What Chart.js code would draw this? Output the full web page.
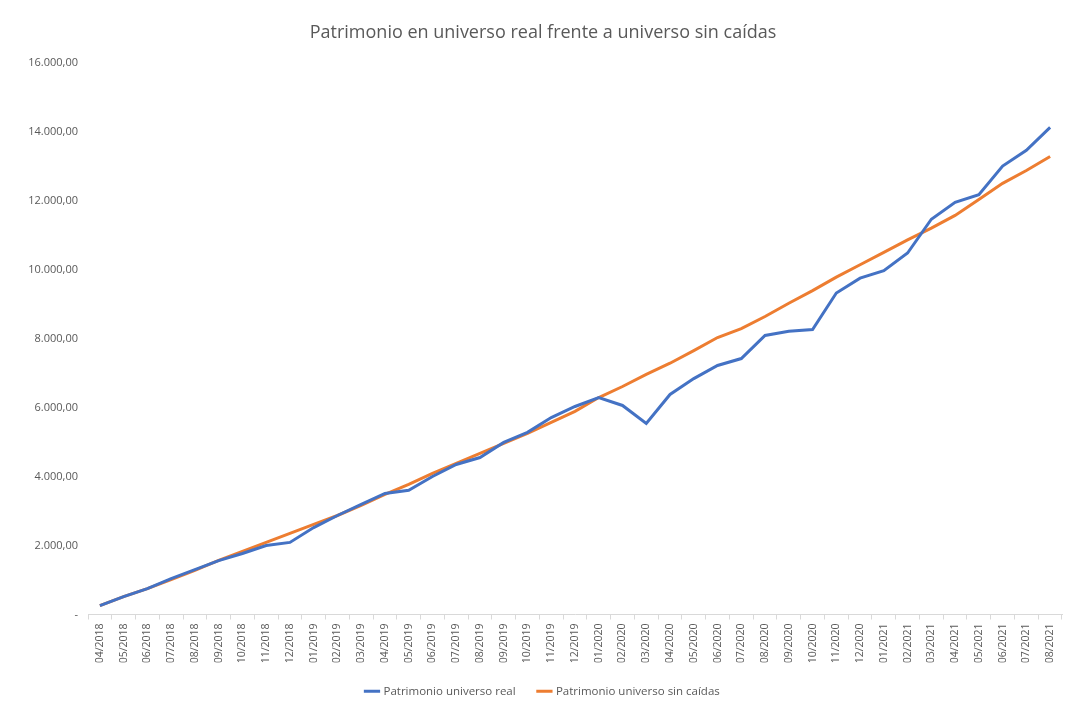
<!DOCTYPE html>
<html>
<head>
<meta charset="utf-8">
<script src="https://cdn.jsdelivr.net/npm/chart.js@4.4.1/dist/chart.umd.min.js"></script>
<style>
html,body{margin:0;padding:0;background:#fff;}
#wrap{width:1079px;height:715px;position:relative;}
</style>
</head>
<body>
<div id="wrap"><canvas id="c" width="1079" height="715"></canvas></div>
<script>
const categories = ["04/2018","05/2018","06/2018","07/2018","08/2018","09/2018","10/2018","11/2018","12/2018",
"01/2019","02/2019","03/2019","04/2019","05/2019","06/2019","07/2019","08/2019","09/2019","10/2019","11/2019","12/2019",
"01/2020","02/2020","03/2020","04/2020","05/2020","06/2020","07/2020","08/2020","09/2020","10/2020","11/2020","12/2020",
"01/2021","02/2021","03/2021","04/2021","05/2021","06/2021","07/2021","08/2021"];

const patrimonioReal = [260,520,750,1040,1300,1560,1770,2000,2090,
2520,2870,3190,3510,3600,4000,4350,4550,4990,5280,5710,6030,
6290,6060,5540,6380,6840,7220,7420,8090,8210,8260,9320,9750,
9970,10480,11460,11950,12170,13000,13460,14120];

const patrimonioSinCaidas = [260,520,750,1010,1280,1570,1830,2090,2350,
2610,2870,3160,3480,3770,4090,4380,4670,4960,5250,5570,5890,
6290,6610,6960,7285,7650,8030,8290,8640,9025,9390,9780,10140,
10500,10860,11200,11570,12030,12500,12870,13280];

const seriesNames = ["Patrimonio universo real","Patrimonio universo sin caídas"];
const yTicks = {min:0, max:16000, step:2000};

function fmt(v){
  if (v === 0) return "-";
  const s = Math.round(v).toString().replace(/\B(?=(\d{3})+(?!\d))/g, ".");
  return s + ",00";
}

const FONT = "'Open Sans', 'Noto Sans', sans-serif";
Chart.defaults.font.family = FONT;
Chart.defaults.color = "#595959";

new Chart(document.getElementById('c'), {
  type: 'line',
  data: {
    labels: categories,
    datasets: [
      {label: seriesNames[0], data: patrimonioReal, borderColor:'#4472C4', backgroundColor:'#4472C4', borderWidth:3, pointRadius:0, tension:0},
      {label: seriesNames[1], data: patrimonioSinCaidas, borderColor:'#ED7D31', backgroundColor:'#ED7D31', borderWidth:3, pointRadius:0, tension:0}
    ]
  },
  options: {
    responsive:false,
    animation:false,
    layout:{padding:{left:24,right:17,top:0,bottom:8}},
    plugins:{
      title:{display:true, text:"Patrimonio en universo real frente a universo sin caídas", font:{size:18, weight:'normal', family:FONT}, color:'#595959', padding:{top:22,bottom:19}},
      legend:{position:'bottom', labels:{usePointStyle:true, pointStyle:'line', boxWidth:30, font:{size:11.5}, color:'#595959', padding:23}},
      tooltip:{enabled:false}
    },
    scales:{
      x:{
        offset:true,
        grid:{display:true, drawOnChartArea:false, offset:true, tickLength:5, color:'#d9d9d9'},
        border:{display:true, color:'#d9d9d9'},
        ticks:{minRotation:90, maxRotation:90, autoSkip:false, font:{size:10.5}, color:'#595959', padding:4},
        afterFit(s){ s.height = 48; }
      },
      y:{
        min:yTicks.min, max:yTicks.max,
        grid:{display:false, drawTicks:false},
        border:{display:false},
        ticks:{stepSize:yTicks.step, callback:(v)=>fmt(v), font:{size:11}, color:'#595959', padding:10},
        afterFit(s){ s.width = 64; }
      }
    }
  }
});
</script>
</body>
</html>
